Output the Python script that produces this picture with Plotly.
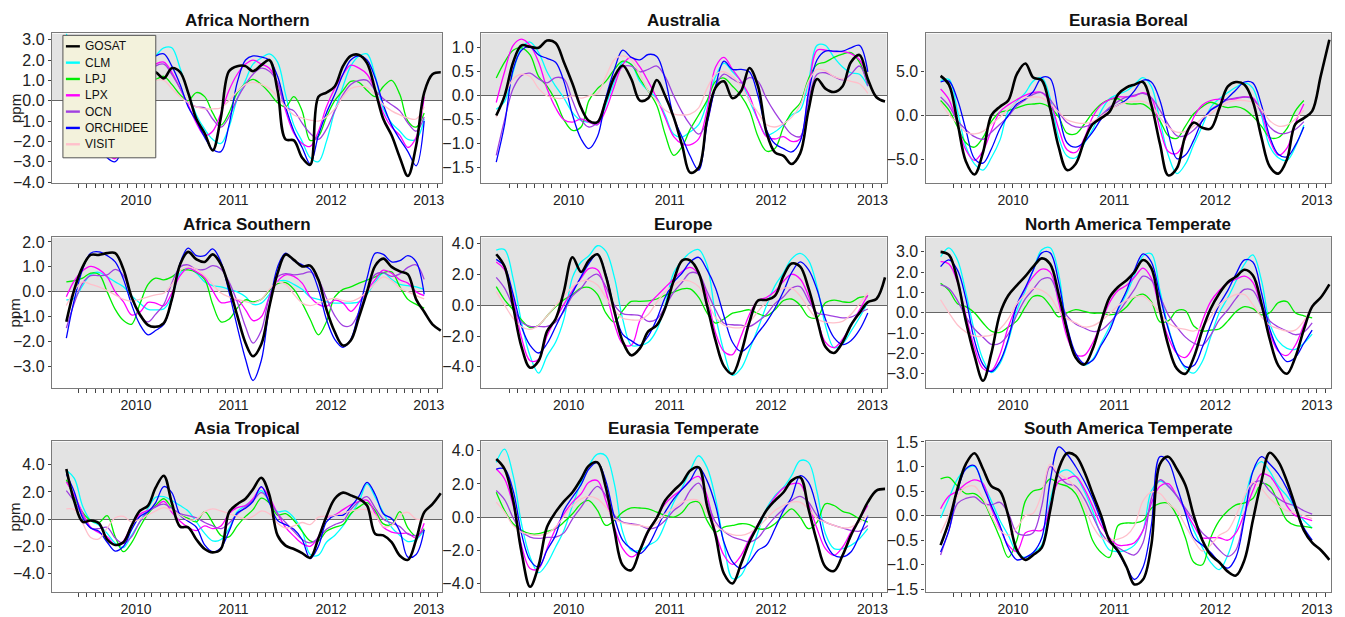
import plotly.graph_objects as go

# ---------------------------------------------------------------- data
# Monthly values (ppm), first value = April 2009.  Models end Dec 2012
# (Eurasia Boreal models end Nov 2012); GOSAT runs to Feb 2013.
SERIES = ["GOSAT", "CLM", "LPJ", "LPX", "OCN", "ORCHIDEE", "VISIT"]
COLORS = ["#000000", "#00FFFF", "#00EE00", "#FF00FF", "#A040E0", "#0000FF", "#FFC0CB"]

# Africa Northern
AFN_GOSAT = [2.0, 1.5, 0.5, -0.8, -1.8, -2.4, -2.5, -2.0, -0.5, 0.8, 1.4, 1.4, 1.1, 1.6, 1.4, 0.4, -0.9, -1.6, -2.45, -0.8, 1.45, 1.7, 1.7, 1.45, 1.75, 2.0, 0.5, -1.9, -1.95, -2.8, -3.15, 0.2, 0.4, 0.7, 1.7, 2.2, 2.25, 1.85, 0.5, -0.9, -1.7, -2.8, -3.7, -2.2, 0.4, 1.3, 1.4]
AFN_CLM = [3.3, 2.0, 0.5, -1.0, -2.0, -2.6, -2.5, -1.5, 0.0, 1.2, 1.8, 2.2, 2.6, 2.6, 1.6, 0.4, -0.7, -1.4, -1.9, -2.1, -1.3, 0.1, 1.0, 1.8, 2.1, 2.3, 1.9, 0.3, -1.2, -2.0, -2.8, -3.0, -2.0, -0.5, 0.7, 1.7, 2.2, 2.3, 1.2, -0.4, -1.1, -1.5, -1.9, -1.9, -0.9]
AFN_LPJ = [1.5, 0.8, 0.0, -0.8, -1.3, -1.6, -1.7, -1.0, -0.2, 0.5, 1.0, 1.05, 1.2, 0.8, 0.3, 0.0, 0.4, 0.2, -0.6, -1.2, -0.6, 0.4, 0.85, 1.05, 0.8, 0.4, -0.1, -0.3, 0.2, -0.5, -1.95, -1.75, -0.8, 0.0, 0.5, 0.95, 0.9, 0.5, 0.2, 0.7, 1.0, 0.3, -1.0, -1.3, -0.6]
AFN_LPX = [2.4, 1.5, 0.2, -1.0, -2.0, -2.6, -2.85, -2.0, -0.5, 0.8, 1.5, 1.8, 1.9, 1.4, 0.6, -0.2, -1.1, -1.7, -1.5, -0.6, 0.5, 1.3, 1.8, 2.0, 1.8, 1.6, 0.9, -0.5, -1.6, -2.1, -2.25, -1.5, -0.3, 0.6, 1.3, 1.75, 1.6, 1.3, 0.5, -0.6, -1.3, -1.7, -2.3, -1.8, 0.2]
AFN_OCN = [2.0, 1.2, 0.0, -1.0, -1.8, -2.4, -2.7, -2.0, -0.7, 0.5, 1.3, 1.7, 1.8, 1.3, 0.6, -0.1, -0.3, -0.35, -0.9, -1.3, -0.8, 0.1, 0.8, 1.3, 1.6, 1.45, 0.9, -0.3, -0.5, -1.1, -1.6, -1.9, -1.4, -0.5, 0.3, 0.8, 1.0, 1.0, 0.5, 0.1, -0.2, -0.5, -1.1, -1.5, -0.8]
AFN_ORCHIDEE = [2.8, 1.8, 0.3, -1.2, -2.2, -2.8, -3.0, -2.2, -0.5, 1.0, 1.9, 2.2, 2.3, 1.7, 0.8, -0.3, -1.0, -1.8, -2.4, -2.5, -1.2, 0.9, 2.0, 2.2, 2.15, 2.0, 1.2, -0.3, -1.5, -2.3, -3.1, -1.7, -0.6, 0.3, 1.3, 2.0, 2.2, 2.0, 1.1, -0.2, -1.2, -1.9, -2.5, -3.2, -1.0]
AFN_VISIT = [1.5, 1.0, 0.3, -0.5, -1.0, -1.3, -1.3, -0.9, -0.3, 0.3, 0.8, 1.0, 1.0, 0.6, 0.2, -0.1, -0.3, -0.4, -0.4, -0.35, 0.0, 0.45, 0.8, 0.9, 0.8, 0.6, 0.2, -0.3, -0.7, -0.85, -0.95, -1.0, -0.8, -0.4, 0.2, 0.6, 0.7, 0.65, 0.3, -0.2, -0.5, -0.7, -0.85, -0.9, -0.3]

# Australia
AUS_GOSAT = [-0.41, 0.0, 0.7, 1.05, 1.02, 1.0, 1.15, 1.1, 0.7, 0.25, -0.25, -0.52, -0.55, -0.1, 0.4, 0.63, 0.35, -0.1, -0.05, 0.33, 0.0, -0.45, -1.05, -1.6, -1.5, -0.5, 0.17, 0.3, -0.05, 0.1, 0.58, 0.2, -0.75, -1.18, -1.25, -1.42, -1.2, -0.3, 0.35, 0.15, 0.08, 0.2, 0.7, 0.85, 0.35, -0.03, -0.12]
AUS_CLM = [-0.28, -0.12, 0.5, 1.0, 1.12, 0.9, 0.5, 0.2, -0.05, -0.35, -0.52, -0.55, -0.6, -0.2, 0.3, 0.7, 0.65, 0.3, 0.1, -0.05, -0.4, -0.8, -0.86, -0.75, -0.6, -0.15, 0.4, 0.68, 0.5, 0.3, -0.1, -0.5, -0.82, -0.75, -0.6, -0.4, -0.3, 0.3, 1.05, 1.05, 0.8, 0.6, 0.48, 0.45, 0.2]
AUS_LPJ = [0.37, 0.7, 0.95, 1.0, 0.85, 0.4, 0.2, -0.1, -0.5, -0.72, -0.65, -0.1, 0.15, 0.3, 0.55, 0.72, 0.65, 0.35, 0.1, -0.2, -0.8, -1.24, -1.05, -0.7, -0.4, -0.1, 0.3, 0.37, 0.2, 0.0, -0.3, -0.85, -1.15, -1.1, -0.65, -0.35, -0.15, 0.35, 0.65, 0.7, 0.8, 0.87, 0.9, 0.7, 0.25]
AUS_LPX = [-0.14, 0.5, 1.05, 1.18, 1.05, 0.7, 0.15, -0.25, -0.5, -0.55, -0.48, -0.55, -0.6, -0.3, 0.2, 0.65, 0.8, 0.6, 0.3, -0.05, -0.45, -0.85, -1.0, -1.02, -0.9, -0.3, 0.6, 0.8, 0.55, 0.3, 0.0, -0.5, -0.85, -0.9, -0.85, -0.95, -0.9, 0.1, 0.95, 0.95, 0.92, 0.92, 0.88, 0.75, 0.35]
AUS_OCN = [-1.24, -0.5, 0.15, 0.42, 0.47, 0.35, 0.27, 0.38, 0.35, -0.1, -0.5, -0.65, -0.55, -0.1, 0.35, 0.6, 0.62, 0.5, 0.55, 0.62, 0.4, 0.0, -0.35, -0.6, -0.8, -0.55, 0.2, 0.45, 0.35, 0.27, 0.38, 0.3, -0.05, -0.35, -0.6, -0.8, -0.85, -0.1, 0.45, 0.48, 0.4, 0.33, 0.45, 0.62, 0.2]
AUS_ORCHIDEE = [-1.38, -0.6, 0.55, 0.95, 1.02, 0.85, 0.78, 0.7, 0.3, -0.4, -0.9, -1.1, -0.85, -0.05, 0.55, 0.95, 0.8, 0.75, 0.86, 0.82, 0.35, -0.45, -0.87, -1.25, -1.55, -0.6, 0.2, 0.72, 0.55, 0.55, 0.5, 0.0, -0.7, -1.0, -1.1, -1.17, -0.95, 0.05, 0.75, 0.93, 0.93, 0.93, 1.0, 1.05, 0.5]
AUS_VISIT = [-0.45, 0.0, 0.35, 0.45, 0.4, 0.15, 0.0, -0.05, -0.05, 0.0, -0.05, 0.0, 0.05, 0.4, 0.75, 0.83, 0.75, 0.45, 0.1, -0.1, -0.3, -0.38, -0.4, -0.38, -0.25, 0.15, 0.45, 0.5, 0.4, 0.2, -0.1, -0.35, -0.6, -0.65, -0.58, -0.45, -0.2, 0.3, 0.55, 0.52, 0.4, 0.35, 0.3, 0.25, 0.05]

# Eurasia Boreal
EUB_GOSAT = [4.5, 3.5, -0.8, -5.2, -6.7, -4.2, 0.0, 1.0, 1.7, 4.7, 5.9, 4.3, 4.0, 0.8, -3.6, -6.2, -5.5, -2.9, -1.0, -0.3, 0.4, 2.4, 3.2, 3.5, 3.8, 1.2, -3.2, -6.8, -6.0, -2.3, -0.8, -1.4, -1.5, 0.8, 3.3, 3.8, 3.5, 1.6, -2.5, -5.8, -6.6, -5.0, -1.0, -0.3, 0.5, 4.5, 8.6]
EUB_CLM = [3.95, 4.1, 0.5, -3.5, -5.5, -6.2, -4.8, -2.8, 0.5, 1.6, 2.6, 3.9, 4.3, 2.0, -2.5, -4.6, -4.8, -3.2, -1.6, 0.5, 1.9, 2.4, 2.8, 3.5, 4.3, 3.3, -0.6, -4.5, -6.6, -5.5, -3.3, -1.2, 0.9, 1.9, 2.6, 3.2, 3.7, 3.1, 0.0, -3.5, -4.8, -5.1, -3.6, -1.1]
EUB_LPJ = [1.7, 0.6, -1.3, -3.1, -3.6, -2.5, -0.7, 0.35, 0.55, 0.85, 1.2, 1.3, 1.35, 0.9, -0.2, -2.0, -2.1, -1.0, 0.3, 1.3, 1.8, 1.9, 1.35, 1.3, 1.3, 0.6, -0.6, -2.3, -2.6, -1.2, 0.2, 1.0, 1.5, 1.15, 0.9, 1.0, 0.7, -0.1, -1.2, -2.5, -2.5, -1.5, 0.5, 1.7]
EUB_LPX = [3.0, 1.8, -1.0, -3.9, -5.1, -4.0, -1.7, 0.4, 1.2, 1.8, 2.3, 2.6, 2.6, 1.5, -1.5, -3.9, -4.2, -2.6, -0.2, 1.2, 1.8, 2.1, 2.1, 2.2, 2.6, 2.0, -1.5, -4.1, -4.3, -2.6, -0.2, 1.2, 1.7, 1.85, 1.8, 1.9, 2.1, 2.0, 0.3, -2.8, -4.5, -3.7, -0.9, 1.3]
EUB_OCN = [2.1, 1.1, -0.6, -1.6, -2.4, -2.7, -1.9, -1.0, -0.1, 1.1, 1.8, 2.4, 2.6, 1.8, 0.4, -0.8, -1.3, -1.3, -0.9, 0.0, 0.9, 1.6, 2.1, 2.3, 2.5, 2.0, 0.6, -1.0, -2.3, -2.3, -1.65, -0.6, 0.65, 1.25, 1.8, 2.0, 2.1, 1.9, 0.3, -1.3, -2.0, -2.0, -1.6, -0.7]
EUB_ORCHIDEE = [3.8, 3.9, 1.8, -1.6, -4.9, -5.4, -3.8, -1.5, 0.0, 1.3, 1.9, 2.7, 4.3, 4.2, 0.2, -3.1, -3.6, -3.0, -1.9, -0.4, 0.7, 1.2, 1.8, 2.8, 4.0, 3.8, 1.7, -2.0, -4.9, -4.5, -2.8, -0.6, 0.6, 1.2, 2.0, 2.9, 3.8, 3.7, 1.2, -2.4, -4.4, -4.7, -3.4, -1.3]
EUB_VISIT = [1.5, 0.1, -0.9, -1.9, -2.1, -1.8, -1.0, -0.2, 0.7, 1.5, 2.0, 2.1, 2.0, 1.3, 0.4, -0.5, -0.8, -0.9, -0.7, -0.1, 0.6, 1.2, 1.5, 1.6, 1.6, 1.1, -0.2, -1.3, -1.9, -1.8, -1.2, -0.3, 0.2, 0.9, 1.5, 1.7, 1.7, 1.5, 0.7, -0.6, -1.2, -1.1, -0.4, 0.6]

# Africa Southern
AFS_GOSAT = [-1.2, 0.1, 1.0, 1.48, 1.48, 1.55, 1.55, 0.9, -0.2, -0.9, -1.33, -1.4, -1.25, -0.3, 1.1, 1.6, 1.3, 1.2, 1.5, 1.1, 0.2, -0.95, -2.05, -2.58, -2.1, -0.6, 0.75, 1.5, 1.28, 1.02, 1.05, 0.48, -0.7, -1.6, -2.15, -1.95, -1.0, 0.0, 1.05, 1.33, 1.0, 0.82, 0.7, -0.3, -0.8, -1.3, -1.55]
AFS_CLM = [-0.32, -0.25, 0.25, 0.7, 0.78, 0.6, 0.4, 0.2, -0.15, -0.45, -0.7, -0.72, -0.68, -0.2, 0.75, 0.95, 0.75, 0.4, 0.25, 0.2, 0.1, 0.0, -0.2, -0.5, -0.45, -0.1, 0.4, 0.45, 0.3, 0.1, -0.2, -0.3, -0.4, -0.45, -0.45, -0.45, -0.4, -0.1, 0.4, 0.75, 0.5, 0.3, 0.25, 0.2, 0.1]
AFS_LPJ = [0.4, 0.45, 0.55, 0.75, 0.7, 0.0, -0.7, -1.15, -1.3, -0.5, 0.3, 0.55, 0.48, 0.6, 0.85, 0.88, 0.78, 0.5, -0.5, -1.2, -1.1, -0.65, -0.32, -0.4, -0.3, 0.05, 0.33, 0.37, 0.1, -0.45, -1.1, -1.72, -1.2, -0.2, 0.1, 0.2, 0.35, 0.47, 0.6, 0.77, 0.8, 0.2, -0.3, -0.5, -0.65]
AFS_LPX = [-0.2, 0.45, 0.85, 1.02, 0.9, 0.6, 0.0, -0.4, -0.92, -0.82, -0.42, -0.45, -0.56, -0.05, 0.65, 0.95, 0.8, 0.57, 0.05, -0.43, -0.4, -0.32, -0.72, -1.15, -1.0, -0.2, 0.42, 0.68, 0.62, 0.35, -0.2, -0.5, -0.58, -0.33, -0.45, -0.78, -0.42, 0.05, 0.5, 0.87, 0.75, 0.48, 0.35, 0.0, -0.15]
AFS_OCN = [-1.45, -0.45, 0.35, 0.65, 0.65, 0.68, 0.9, 0.65, -0.2, -0.95, -1.2, -0.9, -0.5, 0.35, 1.0, 1.08, 0.9, 0.9, 1.05, 0.92, 0.4, -0.4, -1.4, -2.05, -1.55, -0.2, 0.6, 0.73, 0.68, 0.72, 0.8, 0.48, -0.25, -0.95, -1.35, -1.35, -0.8, 0.05, 0.7, 0.77, 0.62, 0.72, 0.98, 1.08, 0.5]
AFS_ORCHIDEE = [-1.85, -0.3, 0.9, 1.55, 1.6, 1.45, 1.2, 0.5, -0.5, -1.3, -1.72, -1.55, -1.3, -0.32, 1.15, 1.75, 1.45, 1.45, 1.72, 1.2, 0.0, -1.4, -2.7, -3.55, -2.75, -0.6, 1.0, 1.55, 1.25, 1.08, 0.9, 0.1, -1.1, -1.9, -2.22, -1.9, -0.75, 0.55, 1.55, 1.5, 1.2, 1.25, 1.45, 1.2, -0.1]
AFS_VISIT = [-0.55, 0.05, 0.4, 0.3, 0.2, 0.05, -0.12, -0.3, -0.37, -0.3, -0.2, -0.12, -0.05, 0.3, 0.85, 1.0, 0.9, 0.65, 0.3, -0.05, -0.2, -0.3, -0.39, -0.45, -0.3, 0.1, 0.38, 0.3, -0.1, -0.45, -0.55, -0.45, -0.33, -0.26, -0.35, -0.38, -0.25, 0.0, 0.35, 0.6, 0.45, 0.15, 0.0, -0.15, -0.28]

# Europe
EUR_GOSAT = [3.3, 2.5, -0.1, -2.7, -4.05, -3.6, -1.7, -0.9, 0.9, 3.1, 2.15, 2.9, 3.3, 1.9, -0.4, -2.35, -3.25, -2.8, -1.7, -1.3, -0.2, 1.6, 2.9, 2.9, 2.1, 0.0, -2.3, -3.95, -4.45, -3.1, -1.1, 0.3, 0.34, 0.6, 1.9, 2.7, 2.5, 1.1, -0.9, -2.7, -3.1, -2.4, -1.3, -0.5, 0.2, 0.4, 1.8]
EUR_CLM = [3.57, 3.6, 1.7, -1.1, -3.3, -4.4, -3.3, -2.4, -0.9, 1.8, 2.8, 3.2, 3.85, 3.5, 1.8, -0.9, -2.6, -2.6, -2.4, -1.6, 0.0, 2.1, 2.9, 3.4, 3.6, 2.6, -0.7, -3.0, -4.55, -4.1, -2.9, -1.5, -0.05, 1.25, 2.1, 3.0, 3.35, 2.9, 1.2, -1.3, -2.75, -2.5, -1.7, -0.8, 0.2]
EUR_LPJ = [1.2, 0.35, -0.3, -0.95, -1.45, -1.3, -0.7, -0.1, 0.35, 0.7, 1.1, 1.15, 0.7, -0.5, -1.1, -0.35, 0.24, 0.24, 0.28, 0.4, 0.65, 0.85, 1.05, 1.05, 0.5, -0.5, -1.16, -0.9, -0.52, -0.4, -0.3, -0.55, -0.7, -0.3, 0.3, 0.4, 0.0, -0.75, -0.8, 0.15, 0.33, 0.22, 0.2, 0.5, 0.56]
EUR_LPX = [2.8, 2.3, 0.4, -2.1, -3.6, -3.5, -2.0, -0.9, 0.05, 0.95, 1.75, 2.37, 2.3, 0.9, -1.2, -2.5, -2.6, -1.0, 0.0, 0.6, 1.15, 1.7, 2.2, 2.45, 2.0, 0.6, -1.8, -3.0, -3.2, -2.0, -0.6, 0.3, 0.5, 0.9, 1.55, 2.0, 1.7, 0.6, -0.9, -2.4, -2.75, -2.2, -1.3, -0.3, 0.65]
EUR_OCN = [1.8, 1.1, -0.1, -1.1, -1.38, -1.38, -1.38, -1.1, -0.4, 0.6, 1.1, 1.74, 2.0, 1.2, 0.0, -0.55, -0.62, -0.68, -1.05, -0.9, -0.1, 0.85, 1.5, 2.1, 2.0, 0.9, -0.3, -1.17, -1.27, -1.3, -1.38, -1.05, -0.6, 0.1, 0.55, 1.1, 1.2, 0.3, -0.5, -0.62, -0.72, -0.82, -0.78, -0.5, -0.25]
EUR_ORCHIDEE = [2.97, 2.5, 0.7, -1.4, -2.6, -3.1, -2.5, -1.4, -0.3, 0.8, 1.85, 2.7, 3.3, 2.0, -0.3, -1.9, -2.3, -2.6, -2.0, -0.9, 0.5, 1.5, 2.1, 2.8, 3.1, 2.3, 1.1, -0.7, -2.4, -3.0, -2.6, -1.8, -1.1, -0.2, 0.9, 2.1, 2.8, 2.3, 1.0, -0.9, -2.1, -2.55, -2.3, -1.6, -0.5]
EUR_VISIT = [0.88, 0.0, -0.85, -1.4, -1.57, -1.3, -0.7, -0.05, 0.6, 1.2, 1.55, 1.6, 1.3, 0.5, -0.3, -0.85, -0.95, -0.95, -0.6, 0.2, 0.85, 1.3, 1.6, 1.55, 1.2, 0.3, -0.8, -1.3, -1.45, -1.45, -1.1, -0.4, 0.2, 0.75, 1.1, 1.1, 0.6, -0.2, -0.9, -1.1, -1.15, -1.05, -0.6, 0.1, 0.8]

# North America Temperate
NAT_GOSAT = [3.0, 2.85, 1.6, -0.4, -2.1, -3.35, -2.0, -0.05, 0.85, 1.35, 1.8, 2.27, 2.68, 2.4, 0.9, -0.85, -2.2, -2.55, -1.8, -0.45, 0.75, 1.27, 1.6, 2.0, 2.6, 2.2, 0.15, -1.6, -2.75, -3.0, -2.2, -0.85, 0.2, 0.95, 1.5, 1.77, 2.12, 1.85, 0.45, -1.3, -2.6, -3.0, -2.2, -0.83, 0.3, 0.75, 1.4]
NAT_CLM = [2.76, 3.2, 2.6, 1.0, -0.9, -2.3, -2.95, -2.5, -1.4, 0.1, 1.1, 2.1, 3.1, 3.2, 1.9, -0.9, -2.2, -2.58, -2.3, -1.5, -0.7, 0.15, 0.95, 1.85, 2.8, 2.9, 1.1, -0.7, -2.0, -2.75, -2.97, -2.4, -1.2, 0.0, 0.75, 1.55, 2.4, 2.85, 1.6, -0.5, -1.4, -1.75, -1.8, -1.5, -1.05]
NAT_LPJ = [1.45, 1.1, 0.45, 0.3, 0.0, -0.5, -0.9, -0.97, -0.7, -0.4, 0.3, 0.8, 0.8, 0.35, -0.2, 0.0, 0.15, 0.07, -0.02, -0.02, -0.1, -0.02, 0.3, 0.75, 0.92, 0.55, -0.45, -0.4, 0.1, 0.1, -0.65, -0.9, -0.85, -0.8, -0.4, 0.05, 0.3, 0.2, -0.1, 0.0, 0.5, 0.55, 0.0, -0.15, -0.25]
NAT_LPX = [2.52, 2.4, 1.5, -0.1, -1.7, -2.75, -2.85, -2.05, -0.7, 0.35, 1.2, 1.78, 2.15, 2.0, 0.5, -1.2, -2.05, -2.1, -1.5, -0.5, 0.5, 1.1, 1.35, 1.75, 2.2, 1.7, 0.1, -1.2, -2.0, -2.2, -1.6, -0.4, 0.55, 1.1, 1.45, 1.65, 1.8, 1.5, 0.3, -1.0, -1.9, -2.1, -1.6, -0.6, 0.35]
NAT_OCN = [1.37, 1.2, 0.6, -0.2, -0.8, -1.2, -1.55, -1.5, -1.05, -0.1, 0.7, 1.15, 1.65, 1.7, 0.75, -0.15, -0.55, -0.75, -0.92, -0.85, -0.5, 0.0, 0.6, 1.15, 1.8, 1.6, 0.8, -0.1, -0.7, -1.2, -1.5, -1.6, -1.1, -0.35, 0.15, 0.7, 1.15, 1.1, 0.3, -0.4, -0.7, -0.9, -1.08, -0.95, -0.5]
NAT_ORCHIDEE = [2.27, 2.6, 2.1, 0.7, -1.35, -2.55, -2.9, -2.4, -1.3, 0.4, 1.25, 2.1, 2.95, 2.95, 1.5, -0.65, -2.0, -2.5, -2.35, -1.6, -0.9, 0.2, 1.1, 2.1, 2.9, 2.5, 0.85, -0.8, -2.0, -2.65, -2.6, -1.7, -0.6, 0.4, 1.1, 1.9, 2.6, 2.5, 1.0, -0.8, -1.85, -2.4, -2.2, -1.5, -0.85]
NAT_VISIT = [0.64, 0.0, -0.6, -0.95, -1.15, -1.16, -1.1, -0.8, -0.3, 0.45, 0.9, 1.2, 1.1, 0.8, 0.1, -0.3, -0.5, -0.7, -0.65, -0.4, -0.05, 0.35, 0.62, 0.78, 0.82, 0.5, -0.02, -0.5, -0.73, -0.82, -0.9, -0.7, -0.2, 0.4, 0.7, 0.9, 0.9, 0.4, -0.2, -0.6, -0.78, -0.9, -0.85, -0.4, 0.35]

# Asia Tropical
AST_GOSAT = [3.7, 1.3, -0.2, -0.1, -0.3, -1.5, -1.9, -1.7, -0.5, 0.6, 1.0, 2.3, 3.2, 1.2, -0.55, -0.6, -1.5, -2.2, -2.45, -2.2, 0.5, 1.1, 1.5, 2.2, 3.05, 1.8, -1.2, -1.95, -2.2, -2.5, -2.85, -1.4, 0.2, 1.5, 1.95, 1.75, 1.5, 1.0, -1.1, -1.2, -1.7, -2.7, -3.0, -1.5, 0.5, 1.1, 1.9]
AST_CLM = [3.6, 3.0, 0.95, -0.1, -0.45, -1.05, -1.78, -2.1, -1.2, -0.2, 0.8, 1.6, 1.65, 1.37, 1.0, 0.6, -0.2, -1.05, -1.6, -1.5, -0.7, 0.55, 1.0, 1.45, 2.1, 1.3, 0.55, 0.6, 0.1, -0.85, -2.6, -2.65, -1.7, -1.2, -0.5, 0.35, 1.3, 2.6, 1.6, 0.5, -0.6, -1.2, -1.65, -1.5, -0.8]
AST_LPJ = [2.9, 1.6, 0.5, -0.1, -0.25, 0.25, -1.3, -2.4, -1.75, -0.6, 0.4, 1.0, 1.5, 0.85, 0.3, 0.05, -0.2, 0.55, -0.25, -1.2, -1.3, -0.5, 0.2, 0.7, 1.55, 1.2, 0.3, 0.4, -0.1, -0.9, -1.6, -1.6, -0.9, -0.6, -0.4, 0.4, 0.9, 1.22, 0.6, -0.35, -0.4, 0.55, -0.65, -1.25, -0.7]
AST_LPX = [2.75, 1.75, 0.45, -0.6, -1.0, -1.3, -1.9, -1.6, -0.45, 0.35, 0.65, 0.9, 1.3, 0.5, -0.15, -0.6, -0.85, -0.5, -0.7, -0.5, 0.4, 0.85, 1.0, 1.5, 2.35, 1.6, 0.4, -0.6, -1.25, -1.8, -2.0, -1.3, 0.1, 0.3, 0.7, 1.05, 1.3, 1.4, 0.4, -0.6, -0.95, -1.05, -1.05, -1.4, -0.3]
AST_OCN = [2.1, 1.3, 0.25, -0.65, -0.7, -0.6, -1.4, -1.8, -1.3, -0.2, 0.55, 0.9, 1.1, 0.8, 0.4, 0.25, 0.1, -0.25, -0.5, -0.7, -0.3, 0.35, 0.9, 1.35, 1.95, 1.4, 0.4, -0.25, -0.9, -1.5, -1.75, -1.4, -0.75, -0.4, -0.15, 0.7, 1.3, 1.65, 0.8, 0.0, -0.3, -0.55, -1.1, -1.2, -0.8]
AST_ORCHIDEE = [3.3, 2.0, 0.1, -0.65, -0.9, -1.7, -2.35, -2.0, -0.8, 0.2, 0.55, 1.2, 2.4, 1.95, 0.3, -0.15, -0.6, -1.9, -2.4, -2.1, -0.9, 0.45, 0.8, 1.3, 2.4, 1.2, -0.1, -0.4, -0.75, -1.5, -2.9, -2.0, -0.2, 0.27, 0.3, 0.9, 1.7, 2.7, 1.8, 0.4, 0.05, -0.9, -2.8, -2.6, -0.8]
AST_VISIT = [0.75, 0.7, -0.3, -1.35, -1.45, -0.65, 0.1, 0.2, -0.2, 0.0, 0.3, 0.6, 0.85, 0.65, 0.3, -0.05, 0.0, 0.55, 0.75, 0.6, 0.4, 0.2, 0.02, 0.2, 0.6, 0.4, -0.3, -0.65, -0.5, -0.25, -0.4, 0.15, 0.2, 0.27, 0.45, 0.6, 0.7, 0.7, 0.3, -0.55, -0.45, 0.3, 0.5, 0.0, 0.0]

# Eurasia Temperate
EUT_GOSAT = [3.5, 2.9, 1.0, -2.1, -4.2, -2.9, -0.6, 0.3, 0.95, 1.5, 2.3, 3.1, 3.3, 1.8, -0.8, -2.9, -3.2, -2.0, -0.85, -0.05, 1.0, 1.6, 2.1, 2.8, 3.0, 0.7, -1.1, -3.4, -4.0, -2.8, -1.5, -0.5, 0.4, 1.0, 1.5, 2.2, 2.4, 0.5, -1.5, -3.0, -3.25, -2.3, -1.1, -0.1, 0.9, 1.6, 1.7]
EUT_CLM = [3.3, 4.1, 2.5, -0.4, -2.4, -3.35, -2.8, -1.8, -0.8, 0.7, 2.1, 3.1, 3.8, 3.7, 2.0, -0.9, -2.0, -2.0, -1.7, -1.4, -0.4, 0.9, 1.8, 2.8, 3.7, 3.0, 1.1, -1.6, -3.7, -3.5, -2.4, -0.9, 0.5, 1.3, 1.8, 2.5, 3.4, 3.3, 1.5, -1.0, -1.9, -1.9, -1.7, -1.3, -0.7]
EUT_LPJ = [1.5, 0.4, -0.4, -0.8, -1.0, -1.0, -0.85, -0.7, -0.3, 0.2, 0.8, 1.0, 0.4, -0.5, -0.2, 0.3, 0.55, 0.55, 0.5, 0.3, 0.1, 0.0, 0.3, 0.85, 0.9, -0.2, -0.9, -0.6, -0.5, -0.4, -0.45, -0.7, -0.7, -0.4, 0.1, 0.5, 0.0, -0.7, -0.3, 0.8, 0.7, 0.35, 0.2, -0.1, -0.3]
EUT_LPX = [2.9, 2.3, 0.7, -1.7, -3.1, -3.1, -1.9, -0.7, 0.2, 0.9, 1.4, 2.1, 2.2, 1.0, -0.6, -1.9, -2.4, -2.0, -0.9, 0.0, 0.8, 1.3, 1.7, 2.2, 2.45, 1.3, -0.9, -2.3, -2.85, -2.3, -1.3, -0.4, 0.4, 1.2, 1.75, 2.0, 2.0, 0.8, -0.7, -1.9, -2.3, -1.8, -0.9, -0.1, 0.7]
EUT_OCN = [1.6, 1.05, -0.05, -0.85, -1.2, -1.28, -1.22, -1.2, -0.95, -0.1, 0.6, 1.3, 1.85, 1.3, 0.1, -0.3, -0.4, -0.5, -0.7, -0.6, -0.2, 0.4, 0.8, 1.6, 2.05, 1.0, -0.3, -0.85, -1.2, -1.35, -1.5, -1.25, -0.6, 0.0, 0.5, 1.0, 1.25, 0.9, 0.1, -0.3, -0.5, -0.65, -0.8, -0.85, -0.5]
EUT_ORCHIDEE = [2.9, 2.9, 1.6, -1.0, -2.6, -3.0, -2.0, -1.1, 0.4, 1.2, 1.95, 2.9, 3.3, 2.2, 0.0, -1.4, -1.9, -2.2, -1.7, -0.7, 0.3, 1.1, 1.7, 2.2, 3.0, 2.2, 0.7, -1.5, -2.7, -3.1, -2.7, -2.0, -1.7, -0.7, 0.4, 1.2, 2.5, 2.1, 0.5, -1.5, -2.3, -2.4, -2.1, -1.1, 0.1]
EUT_VISIT = [0.9, 0.3, -0.5, -0.9, -1.05, -1.1, -1.0, -0.6, 0.05, 0.7, 1.1, 1.25, 1.1, 0.6, -0.1, -0.35, -0.45, -0.5, -0.6, -0.35, 0.2, 0.55, 0.9, 1.05, 1.0, 0.3, -0.5, -0.85, -1.05, -1.1, -0.95, -0.6, -0.1, 0.4, 0.7, 0.9, 0.9, 0.5, -0.1, -0.3, -0.5, -0.65, -0.6, -0.3, 0.1]

# South America Temperate
SAT_GOSAT = [-0.6, -0.12, 0.55, 1.05, 1.27, 0.95, 0.6, 0.5, 0.0, -0.7, -0.9, -0.8, -0.65, 0.1, 0.95, 1.27, 1.22, 0.9, 0.45, 0.0, -0.5, -0.72, -1.05, -1.4, -1.3, -0.6, 1.05, 1.2, 0.95, 0.62, 0.0, -0.5, -0.8, -0.95, -1.14, -1.22, -0.9, -0.1, 0.7, 1.28, 1.1, 0.7, 0.2, -0.3, -0.55, -0.7, -0.9]
SAT_CLM = [-0.05, 0.35, 0.75, 0.95, 1.0, 0.65, 0.3, -0.1, -0.4, -0.75, -0.85, -0.75, -0.6, 0.3, 0.85, 0.93, 0.8, 0.5, 0.1, -0.4, -0.7, -0.73, -0.7, -0.6, -0.3, 0.5, 0.7, 0.6, 0.4, 0.1, -0.3, -0.65, -0.95, -1.1, -0.8, -0.3, 0.3, 0.9, 1.1, 0.9, 0.6, 0.4, 0.15, -0.1, -0.25]
SAT_LPJ = [0.75, 0.78, 0.6, 0.45, 0.45, 0.3, -0.05, -0.45, -0.85, -0.5, 0.3, 0.5, 0.55, 0.75, 0.65, 0.6, 0.45, 0.05, -0.5, -0.75, -0.85, -0.2, -0.15, -0.15, -0.1, 0.15, 0.25, 0.25, 0.0, -0.45, -0.95, -1.0, -0.45, -0.1, 0.1, 0.22, 0.26, 0.35, 0.65, 0.6, 0.25, -0.1, -0.2, -0.22, -0.25]
SAT_LPX = [0.14, 0.4, 0.5, 0.65, 0.73, 0.65, 0.15, -0.25, -0.6, -0.73, -0.35, -0.3, -0.3, 0.2, 0.7, 0.75, 0.8, 0.55, 0.2, -0.2, -0.45, -0.6, -0.6, -0.55, -0.3, 0.25, 0.6, 0.65, 0.4, 0.1, -0.2, -0.45, -0.45, -0.45, -0.5, -0.35, 0.05, 0.5, 0.85, 0.8, 0.55, 0.2, 0.0, -0.05, -0.1]
SAT_OCN = [-0.8, -0.3, 0.25, 0.35, 0.38, 0.25, 0.22, 0.27, 0.05, -0.35, -0.4, -0.35, 0.2, 1.0, 0.8, 0.65, 0.6, 0.35, 0.0, -0.35, -0.55, -0.65, -0.75, -0.8, -0.55, 0.35, 0.73, 0.6, 0.4, 0.15, -0.1, -0.35, -0.5, -0.7, -0.83, -0.7, 0.0, 0.65, 0.7, 0.5, 0.35, 0.25, 0.2, 0.1, 0.03]
SAT_ORCHIDEE = [-0.74, -0.3, 0.5, 0.95, 1.02, 0.6, 0.2, -0.2, -0.65, -0.9, -0.85, -0.75, -0.45, 0.7, 1.4, 1.25, 1.0, 0.7, 0.35, -0.1, -0.5, -0.75, -1.05, -1.3, -1.05, -0.2, 1.2, 1.1, 0.6, 0.05, -0.45, -0.6, -0.75, -0.95, -1.07, -0.85, -0.05, 0.9, 1.2, 1.05, 0.85, 0.55, 0.15, -0.25, -0.5]
SAT_VISIT = [-0.36, 0.0, 0.4, 0.58, 0.6, 0.35, 0.0, -0.3, -0.4, -0.25, 0.0, 0.05, 0.45, 1.05, 0.85, 0.75, 0.55, 0.2, -0.2, -0.45, -0.5, -0.48, -0.4, -0.2, 0.3, 0.48, 0.45, 0.25, 0.1, -0.2, -0.5, -0.72, -0.6, -0.4, -0.3, 0.0, 0.4, 0.68, 0.55, 0.35, 0.2, 0.1, 0.05, 0.0, -0.06]

# panel titles, y ticks and y ranges
TITLES = ["Africa Northern", "Australia", "Eurasia Boreal",
          "Africa Southern", "Europe", "North America Temperate",
          "Asia Tropical", "Eurasia Temperate", "South America Temperate"]
PREFIXES = ["AFN", "AUS", "EUB", "AFS", "EUR", "NAT", "AST", "EUT", "SAT"]
YTICKS = [[-4, -3, -2, -1, 0, 1, 2, 3], [-1.5, -1.0, -0.5, 0, 0.5, 1.0], [-5, 0, 5],
          [-3, -2, -1, 0, 1, 2], [-4, -2, 0, 2, 4], [-3, -2, -1, 0, 1, 2, 3],
          [-4, -2, 0, 2, 4], [-4, -2, 0, 2, 4], [-1.5, -1.0, -0.5, 0, 0.5, 1.0, 1.5]]
YRANGES = [[-4.03, 3.31], [-1.81, 1.30], [-7.63, 9.32],
           [-3.84, 2.18], [-5.35, 4.39], [-3.69, 3.71],
           [-5.35, 5.72], [-4.50, 4.56], [-1.55, 1.51]]
YEAR_LABELS = ["2010", "2011", "2012", "2013"]

# ---------------------------------------------------------------- layout helpers
W, H = 1345, 617
COLS_PX = [(52, 443), (482, 888), (927, 1333)]
ROWS_PX = [(32, 182), (237, 388), (442, 593)]
XRANGE = ["2009-02-20", "2013-02-21"]
FONT = "Liberation Sans, Arial, sans-serif"
# vertical calibration of the page as photographed
Y_OFF, Y_SC = 6.5, 0.977


def fy(ypx):
    """target picture row (px) -> paper fraction"""
    return 1 - ((ypx - Y_OFF) / Y_SC) / H


def month_dates(n):
    out, y, m = [], 2009, 4
    for _ in range(n):
        out.append(f"{y:04d}-{m:02d}-15")
        m += 1
        if m > 12:
            m, y = 1, y + 1
    return out


# monthly tick marks, year labels at January
tickvals, ticktext = [], []
y, m = 2009, 6
while (y, m) <= (2013, 2):
    tickvals.append(f"{y:04d}-{m:02d}-01")
    ticktext.append(str(y) if (m == 1 and str(y) in YEAR_LABELS) else "")
    m += 1
    if m > 12:
        m, y = 1, y + 1

fig = go.Figure()
layout = dict(width=W, height=H, margin=dict(l=0, r=0, t=0, b=0),
              paper_bgcolor="white", plot_bgcolor="white", showlegend=False,
              font=dict(family=FONT, color="#222222"))
shapes, annotations = [], []

g = globals()
for p, prefix in enumerate(PREFIXES):
    r, c = divmod(p, 3)
    k = p + 1
    xa = "x" if k == 1 else f"x{k}"
    ya = "y" if k == 1 else f"y{k}"
    x0, x1 = COLS_PX[c]
    t, b = ROWS_PX[r]
    layout["xaxis" if k == 1 else f"xaxis{k}"] = dict(
        domain=[x0 / W, x1 / W], anchor=ya, type="date", range=XRANGE,
        tickmode="array", tickvals=tickvals, ticktext=ticktext,
        ticks="outside", ticklen=4, tickwidth=1, tickcolor="#444444",
        showgrid=False, zeroline=False, showline=True, mirror=True,
        linecolor="#7A7A7A", linewidth=1.3, tickfont=dict(size=14, color="#222222"))
    layout["yaxis" if k == 1 else f"yaxis{k}"] = dict(
        domain=[fy(b), fy(t)], anchor=xa, range=YRANGES[p],
        tickmode="array", tickvals=YTICKS[p], tickformat=".1f",
        ticks="outside", ticklen=3, tickcolor="#444444",
        showgrid=False, zeroline=True, zerolinecolor="#666666", zerolinewidth=1.2,
        showline=True, mirror=True, linecolor="#7A7A7A", linewidth=1.3,
        tickfont=dict(size=16, color="#222222"))
    # grey band above zero
    shapes.append(dict(type="rect", xref=f"{xa} domain", yref=ya, x0=0, x1=1,
                       y0=0, y1=YRANGES[p][1], fillcolor="#E3E3E3",
                       line=dict(width=0), layer="below"))
    # title
    annotations.append(dict(text=f"<b>{TITLES[p]}</b>", xref="paper", yref="paper",
                            x=(x0 + x1) / 2 / W, y=fy(t - 13),
                            xanchor="center", yanchor="middle", showarrow=False,
                            font=dict(size=17, color="#111111", family=FONT)))
    if c == 0:
        annotations.append(dict(text="ppm", xref="paper", yref="paper",
                                x=15 / W, y=fy((t + b) / 2), textangle=-90,
                                xanchor="center", yanchor="middle", showarrow=False,
                                font=dict(size=15, color="#222222", family=FONT)))
    # models first, GOSAT on top
    order = SERIES[1:] + SERIES[:1]
    for name in order:
        vals = g[f"{prefix}_{name}"]
        col = COLORS[SERIES.index(name)]
        fig.add_trace(go.Scatter(
            x=month_dates(len(vals)), y=vals, mode="lines", name=name,
            xaxis=xa, yaxis=ya, showlegend=False, hoverinfo="skip",
            line=dict(color=col, width=2.6 if name == "GOSAT" else 1.3,
                      shape="spline", smoothing=1.0)))

# legend box (drawn over the first panel, as in the original)
LX0, LX1, LY0, LY1 = 63, 156, 34, 157
shapes.append(dict(type="rect", xref="paper", yref="paper",
                   x0=LX0 / W, x1=LX1 / W, y0=fy(LY1), y1=fy(LY0),
                   fillcolor="#F3F2DC", line=dict(color="#555555", width=1), layer="above"))
for i, name in enumerate(SERIES):
    yy = 45 + i * 16.4
    shapes.append(dict(type="line", xref="paper", yref="paper",
                       x0=66 / W, x1=80 / W, y0=fy(yy), y1=fy(yy),
                       line=dict(color=COLORS[i], width=2.4), layer="above"))
    annotations.append(dict(text=name, xref="paper", yref="paper",
                            x=83 / W, y=fy(yy), xanchor="left", yanchor="middle",
                            showarrow=False, font=dict(size=12, color="#111111", family=FONT)))

layout["shapes"] = shapes
layout["annotations"] = annotations
fig.update_layout(**layout)
fig.write_html("out.html", config={"displayModeBar": False},
               post_script="document.body.style.margin='0';document.body.style.overflow='hidden';")
